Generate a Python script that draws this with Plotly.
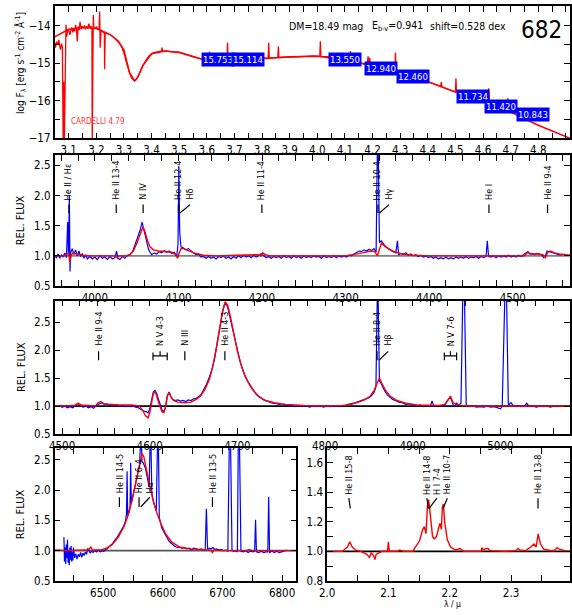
import plotly.graph_objects as go

W, H = 572, 615
FONT = "Liberation Sans Narrow, DejaVu Sans Condensed, Arial Narrow, Arial, sans-serif"

# ---------------- Panel 1: SED (log lambda / log F) ----------------
SED_OBS_LOGL = [3.049, 3.052, 3.056, 3.060, 3.064, 3.067, 3.070, 3.074, 3.077, 3.080, 3.082, 3.084,
                3.087, 3.090, 3.093, 3.096, 3.100, 3.104, 3.107, 3.111, 3.115, 3.118, 3.122, 3.125,
                3.128, 3.131, 3.134, 3.138, 3.141, 3.145, 3.149, 3.153, 3.157, 3.161, 3.165, 3.169,
                3.173, 3.177, 3.181, 3.184, 3.185, 3.187, 3.189, 3.191, 3.195, 3.200, 3.205, 3.210,
                3.212, 3.214, 3.217, 3.222, 3.226, 3.229, 3.230, 3.232, 3.236, 3.242, 3.248, 3.254,
                3.260, 3.266, 3.272, 3.278, 3.284, 3.290, 3.294, 3.296, 3.298, 3.300, 3.303, 3.307,
                3.313, 3.319, 3.325, 3.331, 3.339, 3.344, 3.349, 3.357, 3.367, 3.376, 3.385, 3.393,
                3.402, 3.415, 3.428, 3.436, 3.438, 3.440, 3.455, 3.474, 3.497, 3.520, 3.545, 3.563,
                3.581, 3.600, 3.610, 3.612, 3.630, 3.652, 3.673, 3.675, 3.677, 3.703, 3.705, 3.707,
                3.735, 3.760, 3.782, 3.810, 3.822, 3.824, 3.826, 3.857, 3.859, 3.861, 3.880, 3.901,
                3.936, 3.960, 3.984, 4.009, 4.011, 4.013, 4.030, 4.043, 4.045, 4.047, 4.060, 4.062,
                4.064, 4.091, 4.118, 4.120, 4.122, 4.140, 4.162, 4.180, 4.184, 4.186, 4.190, 4.192,
                4.221, 4.250, 4.281, 4.283, 4.285, 4.293, 4.320, 4.352, 4.373, 4.375, 4.377, 4.400,
                4.435, 4.447, 4.449, 4.451, 4.480, 4.500, 4.502, 4.504, 4.518, 4.560, 4.589, 4.610,
                4.621, 4.623, 4.636, 4.660, 4.688, 4.690, 4.692, 4.702]
SED_OBS_LOGF = [-14.46, -14.59, -14.43, -14.52, -14.38, -14.55, -14.64, -14.48, -14.58, -17.20, -15.50, -17.20,
                -14.60, -13.98, -14.30, -14.12, -14.11, -14.25, -14.15, -14.05, -14.18, -14.07, -14.15, -13.98,
                -14.10, -14.42, -14.03, -14.12, -13.90, -14.10, -14.02, -14.08, -14.00, -14.10, -14.02, -14.08,
                -13.95, -14.06, -14.03, -14.07, -17.20, -14.10, -13.72, -14.06, -14.07, -14.04, -14.09, -14.07,
                -13.63, -14.59, -14.12, -14.15, -14.20, -14.16, -15.16, -14.19, -14.21, -14.22, -14.24, -14.26,
                -14.29, -14.33, -14.37, -14.42, -14.48, -14.55, -14.60, -14.68, -14.62, -14.75, -14.80, -14.94,
                -15.10, -15.25, -15.36, -15.43, -15.47, -15.44, -15.38, -15.25, -15.08, -14.95, -14.86, -14.79,
                -14.74, -14.71, -14.69, -14.68, -14.59, -14.68, -14.68, -14.70, -14.70, -14.75, -14.81, -14.85,
                -14.90, -14.93, -14.70, -14.93, -14.94, -14.93, -14.93, -14.45, -14.93, -14.92, -14.71, -14.92,
                -14.90, -14.89, -14.88, -14.87, -14.87, -14.46, -14.87, -14.85, -14.55, -14.85, -14.84, -14.83,
                -14.83, -14.82, -14.81, -14.82, -14.42, -14.82, -14.83, -14.83, -14.73, -14.84, -14.85, -14.75,
                -14.86, -14.90, -14.95, -14.68, -14.95, -14.98, -15.01, -15.04, -14.82, -15.05, -14.86, -15.05,
                -15.10, -15.15, -15.19, -14.72, -15.20, -15.21, -15.29, -15.38, -15.43, -15.21, -15.44, -15.49,
                -15.58, -15.62, -15.50, -15.63, -15.71, -15.76, -15.40, -15.77, -15.82, -15.92, -15.99, -16.04,
                -15.67, -16.07, -16.13, -16.18, -16.25, -15.93, -16.27, -16.30]
SED_MOD_LOGL = [3.049, 3.10, 3.15, 3.20, 3.25, 3.28, 3.30, 3.32, 3.339, 3.35, 3.37, 3.40, 3.45, 3.50,
                3.55, 3.60, 3.70, 3.80, 3.90, 4.00, 4.10, 4.20, 4.30, 4.40, 4.50, 4.60, 4.70, 4.80, 4.916]
SED_MOD_LOGF = [-14.30, -14.10, -14.05, -14.08, -14.24, -14.42, -14.65, -15.25, -15.47, -15.38, -15.05,
                -14.75, -14.68, -14.72, -14.83, -14.93, -14.93, -14.88, -14.83, -14.82, -14.91, -15.06,
                -15.23, -15.49, -15.77, -16.02, -16.30, -16.65, -17.00]
PHOT_LOGL = [3.642, 3.749, 4.101, 4.229, 4.347, 4.562, 4.664, 4.780]
PHOT_LOGF = [-14.89, -14.89, -14.90, -15.14, -15.36, -15.88, -16.15, -16.36]
PHOT_MAG = ["15.753", "15.114", "13.550", "12.940", "12.460", "11.734", "11.420", "10.843"]

# ---------------- Panel 2: 3950-4570 A ----------------
P2_OBS_WAVE = [3952, 3954, 3956, 3958, 3960, 3962, 3964, 3966, 3967.5, 3968.5, 3969.5, 3970.3, 3971, 3973,
               3975, 3977, 3979, 3981, 3983, 3985, 3987, 3989, 3991, 3994, 3997, 4000, 4003, 4006, 4009,
               4012, 4015, 4018, 4021, 4024, 4026, 4027.5, 4030, 4033, 4036, 4039, 4042, 4045, 4048, 4051,
               4054, 4056.5, 4058, 4060, 4062, 4064, 4066, 4068, 4071, 4074, 4077, 4080, 4083, 4086, 4089,
               4092, 4095, 4098, 4099.5, 4100.5, 4101.5, 4103, 4106, 4109, 4112, 4115, 4118, 4121, 4124,
               4127, 4130, 4133, 4136, 4139, 4142, 4145, 4148, 4151, 4154, 4157, 4160, 4163, 4166, 4169,
               4172, 4175, 4178, 4181, 4184, 4187, 4190, 4193, 4196, 4199, 4202, 4205, 4208, 4211, 4214,
               4217, 4220, 4223, 4226, 4229, 4232, 4235, 4238, 4241, 4244, 4247, 4250, 4253, 4256, 4259,
               4262, 4265, 4268, 4271, 4274, 4277, 4280, 4283, 4286, 4289, 4292, 4295, 4298, 4301, 4304,
               4307, 4310, 4313, 4316, 4319, 4322, 4325, 4328, 4331, 4334, 4336.5, 4338, 4339, 4340.5,
               4342.5, 4345, 4348, 4351, 4354, 4357, 4360, 4362, 4363.5, 4366, 4369, 4372, 4375, 4378,
               4381, 4384, 4387, 4390, 4393, 4396, 4399, 4402, 4405, 4408, 4411, 4414, 4417, 4420, 4423,
               4426, 4429, 4432, 4435, 4438, 4441, 4444, 4447, 4450, 4453, 4456, 4459, 4462, 4465, 4468,
               4469.5, 4471, 4474, 4477, 4480, 4483, 4486, 4489, 4492, 4495, 4498, 4501, 4504, 4507, 4510,
               4513, 4516, 4518, 4520, 4523, 4526, 4529, 4532, 4535, 4537, 4539, 4541, 4543, 4546, 4549,
               4552, 4555, 4558]
P2_OBS_FLUX = [1.00, 0.97, 1.03, 0.96, 1.02, 0.98, 1.05, 0.97, 1.56, 1.00, 2.00, 0.74, 1.05, 1.12,
               1.02, 1.10, 1.00, 1.08, 0.99, 1.04, 0.96, 1.02, 0.95, 0.99, 0.95, 0.98, 0.94, 1.00, 0.96,
               0.98, 0.94, 0.99, 0.95, 0.97, 1.08, 0.96, 0.94, 0.99, 0.96, 1.01, 1.02, 1.07, 1.18, 1.30,
               1.42, 1.56, 1.47, 1.36, 1.24, 1.12, 1.06, 1.02, 1.05, 1.03, 1.07, 1.05, 1.09, 1.06, 1.08,
               1.04, 1.06, 0.99, 1.20, 2.48, 1.40, 1.15, 1.13, 1.10, 1.12, 1.08, 1.05, 1.02, 1.03,
               0.98, 0.99, 0.96, 0.99, 0.96, 0.98, 0.95, 0.99, 0.97, 1.00, 0.96, 0.98, 0.95, 0.99, 0.96,
               1.00, 0.97, 1.01, 0.98, 1.00, 0.97, 1.01, 0.98, 1.00, 1.04, 1.01, 0.97, 0.99, 0.96, 0.99,
               0.97, 0.99, 0.96, 1.00, 0.97, 0.99, 0.96, 1.00, 0.97, 0.99, 0.96, 1.00, 0.97, 0.99, 0.97,
               1.00, 0.98, 0.99, 0.96, 1.00, 0.97, 0.99, 0.97, 1.00, 0.97, 1.00, 0.98, 1.00, 0.98, 1.01,
               1.00, 1.03, 1.06, 1.08, 1.07, 1.10, 1.08, 1.11, 1.09, 1.12, 1.06, 2.80, 2.80, 1.22,
               1.25, 1.20, 1.15, 1.12, 1.09, 1.07, 1.05, 1.25, 1.02, 1.04, 1.02, 1.05, 1.01, 1.03,
               1.00, 1.02, 0.99, 1.01, 0.98, 1.00, 0.97, 0.99, 0.96, 0.98, 0.95, 0.97, 0.95, 0.98, 0.95,
               0.97, 0.95, 0.98, 0.96, 0.98, 0.96, 0.99, 0.96, 0.98, 0.97, 0.99, 0.96, 0.99, 0.97, 0.99,
               1.25, 0.99, 0.98, 1.00, 0.97, 1.00, 0.98, 1.00, 0.98, 1.01, 0.98, 1.00, 0.98, 1.01, 0.99,
               1.02, 1.04, 1.07, 1.03, 1.04, 1.02, 1.04, 1.03, 1.01, 0.97, 1.00, 1.08, 1.07, 1.05, 1.04,
               1.03, 1.02, 1.01]
P2_MOD_WAVE = [3952, 3964, 3967, 3968.5, 3970, 3972, 3974, 3978, 3985, 3995, 4024, 4026.5, 4029, 4038,
               4042, 4046, 4050, 4054, 4057.5, 4060, 4063, 4066, 4070, 4076, 4084, 4092, 4096, 4099,
               4101, 4103, 4106, 4112, 4120, 4130, 4145, 4170, 4185, 4195, 4199, 4201, 4204, 4210,
               4300, 4310, 4320, 4330, 4335, 4338, 4341, 4343, 4346, 4350, 4356, 4365, 4380, 4400,
               4514, 4518, 4522, 4530, 4536, 4539, 4542, 4545, 4550, 4556, 4569]
P2_MOD_FLUX = [1.00, 1.00, 1.03, 1.05, 0.90, 1.02, 1.05, 1.03, 1.01, 1.00, 1.00, 0.97, 1.00, 1.00,
               1.02, 1.08, 1.20, 1.36, 1.48, 1.40, 1.25, 1.15, 1.10, 1.08, 1.07, 1.06, 1.03, 0.96,
               1.05, 1.12, 1.12, 1.08, 1.04, 1.01, 1.00, 1.01, 1.02, 1.02, 1.00, 1.05, 1.02, 1.00,
               1.00, 1.02, 1.05, 1.08, 1.07, 1.00, 1.16, 1.22, 1.17, 1.13, 1.08, 1.04, 1.01, 1.00,
               1.00, 1.06, 1.03, 1.03, 1.02, 0.97, 1.06, 1.08, 1.05, 1.03, 1.01]
P2_LINE_WAVE = [3969.0, 4025.6, 4057.8, 4100.0, 4101.7, 4199.8, 4338.7, 4340.5, 4471.5, 4541.6]
P2_LINE_TEXT = ["He II / H\u03b5", "He II 13-4", "N IV", "He II 12-4", "H\u03b4", "He II 11-4",
                "He II 10-4", "H\u03b3", "He I", "He II 9-4"]

# ---------------- Panel 3: 4490-5080 A ----------------
P3_OBS_WAVE = [4497, 4500, 4503, 4506, 4509, 4512, 4515, 4518, 4521, 4524, 4527, 4530, 4533, 4536, 4539,
               4542, 4545, 4548, 4551, 4554, 4557, 4560, 4563, 4566, 4569, 4572, 4575, 4578, 4581, 4584,
               4587, 4590, 4593, 4596, 4598, 4600, 4602, 4604, 4606, 4608, 4610, 4612, 4614, 4616, 4618,
               4620, 4622, 4624, 4626, 4629, 4632, 4635, 4638, 4641, 4644, 4647, 4650, 4653, 4656, 4659,
               4662, 4665, 4668, 4671, 4674, 4677, 4680, 4683, 4685, 4687, 4689, 4691, 4694, 4697, 4700,
               4703, 4706, 4709, 4712, 4715, 4718, 4721, 4724, 4727, 4730, 4734, 4738, 4742, 4746, 4750,
               4754, 4758, 4762, 4766, 4770, 4774, 4778, 4782, 4786, 4790, 4794, 4798, 4802, 4806, 4810,
               4814, 4818, 4822, 4826, 4830, 4834, 4838, 4842, 4846, 4850, 4853, 4856, 4858, 4859.5, 4860.5,
               4862, 4864, 4866, 4868, 4871, 4874, 4877, 4880, 4884, 4888, 4892, 4896, 4900, 4904, 4908,
               4912, 4916, 4920, 4922, 4924, 4928, 4932, 4936, 4939, 4942, 4944, 4946, 4948, 4950, 4952,
               4955, 4957, 4959, 4961, 4965, 4969, 4973, 4977, 4981, 4985, 4989, 4993, 4997, 5000, 5002,
               5005, 5007, 5009, 5012, 5015, 5019, 5023, 5027, 5030, 5033, 5037, 5041, 5045, 5049, 5053,
               5057, 5061, 5064]
P3_OBS_FLUX = [1.02, 0.98, 1.00, 0.97, 0.99, 0.97, 1.00, 1.05, 1.00, 0.98, 1.00, 0.97, 0.99, 0.96, 1.01,
               1.04, 1.06, 1.03, 1.04, 1.01, 1.03, 1.00, 1.02, 0.99, 1.01, 0.99, 1.00, 0.99, 1.00, 0.98,
               0.97, 0.94, 0.91, 0.90, 0.88, 0.95, 1.12, 1.25, 1.28, 1.22, 1.12, 1.02, 0.93, 0.90, 0.98,
               1.18, 1.25, 1.18, 1.12, 1.10, 1.11, 1.09, 1.10, 1.08, 1.11, 1.10, 1.13, 1.14, 1.17, 1.22,
               1.30, 1.40, 1.52, 1.66, 1.85, 2.10, 2.40, 2.68, 2.80, 2.84, 2.76, 2.62, 2.40, 2.18, 1.98,
               1.80, 1.65, 1.52, 1.44, 1.36, 1.28, 1.22, 1.17, 1.14, 1.11, 1.09, 1.06, 1.05, 1.04, 1.02,
               1.03, 1.00, 1.02, 0.99, 1.01, 0.99, 1.01, 0.98, 1.00, 0.99, 1.01, 0.98, 1.00, 0.99, 1.01,
               0.99, 1.01, 1.00, 1.03, 1.04, 1.06, 1.08, 1.10, 1.12, 1.15, 1.19, 1.25, 1.35, 2.95, 2.95,
               1.45, 1.40, 1.32, 1.27, 1.20, 1.16, 1.12, 1.10, 1.07, 1.06, 1.03, 1.04, 1.02, 1.00, 1.02,
               0.99, 1.01, 1.00, 1.09, 1.00, 1.01, 1.00, 1.02, 1.08, 1.15, 1.12, 1.02, 1.00, 1.06, 1.01,
               1.05, 2.95, 2.95, 1.02, 0.99, 1.00, 0.98, 0.99, 0.98, 1.00, 0.98, 0.99, 0.97, 0.95, 0.99,
               2.95, 2.95, 1.02, 1.06, 1.00, 1.01, 0.99, 1.00, 1.05, 0.99, 1.00, 0.98, 1.00, 0.99, 1.00,
               0.98, 1.00, 0.99]
P3_MOD_WAVE = [4491, 4514, 4518, 4522, 4530, 4538, 4541, 4544, 4548, 4555, 4565, 4580, 4588, 4592, 4595,
               4598, 4600, 4602, 4604, 4606, 4608, 4611, 4614, 4616, 4618, 4620, 4622, 4624, 4627, 4632,
               4640, 4647, 4653, 4658, 4663, 4668, 4672, 4676, 4680, 4683, 4686, 4689, 4692, 4696, 4700,
               4704, 4708, 4713, 4718, 4724, 4732, 4742, 4755, 4775, 4800, 4820, 4830, 4838, 4845, 4851,
               4856, 4859, 4862, 4865, 4869, 4874, 4882, 4892, 4905, 4930, 4937, 4940, 4943, 4946, 4950,
               4955, 4970, 5080]
P3_MOD_FLUX = [1.00, 1.01, 1.05, 1.02, 1.01, 1.00, 1.06, 1.08, 1.04, 1.03, 1.02, 1.02, 1.00, 0.92, 0.83,
               0.79, 0.88, 1.05, 1.22, 1.26, 1.18, 1.02, 0.90, 0.88, 0.98, 1.18, 1.24, 1.17, 1.10, 1.07,
               1.06, 1.07, 1.12, 1.18, 1.30, 1.48, 1.72, 2.05, 2.45, 2.70, 2.87, 2.80, 2.60, 2.28, 1.98,
               1.75, 1.57, 1.40, 1.28, 1.18, 1.10, 1.06, 1.03, 1.01, 1.00, 1.01, 1.03, 1.07, 1.11, 1.17,
               1.28, 1.40, 1.50, 1.40, 1.28, 1.18, 1.10, 1.05, 1.02, 1.01, 1.03, 1.10, 1.18, 1.06, 1.03,
               1.01, 1.00, 1.00]
P3_LINE_WAVE = [4541.6, 4640.0, 4685.7, 4859.3, 4861.3]
P3_LINE_TEXT = ["He II 9-4", "N III", "He II 4-3", "He II 8-4", "H\u03b2"]
P3_BLEND_TEXT = ["N V 4-3", "N V 7-6"]
P3_BLEND_LO = [4603.7, 4936.0]
P3_BLEND_HI = [4619.9, 4950.0]

# ---------------- Panel 4: 6420-6825 A ----------------
P4_OBS_WAVE = [6434, 6435, 6436, 6437, 6438, 6439, 6440, 6441, 6442, 6443, 6444, 6445, 6446, 6447, 6448,
               6449, 6450, 6452, 6454, 6456, 6458, 6460, 6462, 6464, 6466, 6468, 6470, 6472, 6474, 6476,
               6478, 6480, 6483, 6486, 6489, 6492, 6495, 6498, 6501, 6504, 6507, 6510, 6513, 6516, 6519,
               6522, 6525, 6528, 6531, 6534, 6537, 6539, 6540, 6541, 6543, 6545, 6546, 6547, 6549, 6551,
               6553, 6555, 6557, 6559, 6561, 6562.5, 6564, 6565, 6567, 6569, 6571, 6573, 6575, 6577,
               6578.5, 6580, 6581.5, 6583, 6585, 6587, 6589, 6591, 6592.5, 6594, 6596, 6598, 6601, 6604,
               6607, 6610, 6613, 6616, 6619, 6622, 6625, 6628, 6632, 6636, 6640, 6644, 6648, 6652, 6656,
               6660, 6664, 6668, 6671, 6673, 6675, 6678, 6681, 6684, 6687, 6690, 6694, 6698, 6702, 6706,
               6709, 6711.5, 6713.5, 6716, 6719, 6722, 6725, 6726.5, 6728.5, 6731, 6735, 6739, 6743, 6747,
               6751, 6754, 6755.5, 6757, 6761, 6765, 6769, 6773, 6776, 6777.5, 6779, 6783, 6787, 6791,
               6795, 6799, 6803, 6806, 6808]
P4_OBS_FLUX = [1.22, 0.82, 1.05, 0.78, 1.10, 0.88, 1.18, 0.80, 1.00, 0.76, 1.05, 0.85, 1.08, 0.82, 0.98,
               0.84, 1.05, 0.88, 0.95, 0.86, 0.94, 0.90, 0.97, 0.89, 0.96, 0.92, 0.98, 0.94, 1.04, 1.00,
               0.96, 0.99, 0.97, 1.00, 0.98, 1.01, 0.98, 1.00, 0.99, 1.02, 1.03, 1.07, 1.09, 1.12, 1.17,
               1.20, 1.25, 1.30, 1.35, 1.40, 1.48, 1.60, 2.31, 1.58, 1.65, 1.72, 2.45, 1.78, 1.88, 1.98,
               2.06, 2.15, 2.25, 2.35, 2.42, 2.80, 2.80, 2.46, 2.45, 2.40, 2.35, 2.25, 2.15, 2.05,
               2.80, 2.80, 1.95, 1.85, 1.78, 1.72, 1.66, 2.80, 2.80, 1.55, 1.45, 1.38, 1.32, 1.26,
               1.20, 1.16, 1.13, 1.10, 1.08, 1.06, 1.05, 1.06, 1.04, 1.05, 1.03, 1.04, 1.02, 1.04, 1.03,
               1.02, 1.03, 1.02, 1.01, 1.69, 1.02, 1.04, 1.03, 1.05, 1.02, 1.03, 1.01, 1.02, 1.00, 1.01,
               0.99, 2.80, 2.80, 1.00, 0.99, 1.00, 0.98, 2.80, 2.80, 0.99, 0.98, 1.00, 0.97, 0.99,
               0.98, 0.99, 1.51, 0.98, 0.97, 0.99, 0.97, 0.98, 0.98, 1.89, 0.97, 0.99, 0.97, 0.99,
               0.97, 0.98, 0.99, 1.00, 1.01]
P4_MOD_WAVE = [6418, 6440, 6470, 6476, 6479, 6482, 6495, 6505, 6515, 6525, 6535, 6543, 6550, 6556, 6561,
               6565, 6568, 6572, 6577, 6583, 6590, 6597, 6605, 6615, 6628, 6645, 6665, 6680, 6683, 6686,
               6700, 6740, 6745, 6750, 6824]
P4_MOD_FLUX = [1.01, 1.00, 1.01, 1.02, 1.06, 1.01, 1.01, 1.04, 1.10, 1.22, 1.40, 1.62, 1.90, 2.20, 2.45,
               2.60, 2.55, 2.38, 2.12, 1.85, 1.62, 1.44, 1.27, 1.14, 1.06, 1.03, 1.02, 1.01, 0.97, 1.01,
               1.00, 1.00, 1.02, 1.00, 1.00]
P4_LINE_WAVE = [6527.1, 6560.1, 6562.8, 6683.2]
P4_LINE_TEXT = ["He II 14-5", "He II 6-4", "H\u03b1", "He II 13-5"]

# ---------------- Panel 5: K band (micron) ----------------
P5_MOD_MU = [2.000, 2.025, 2.030, 2.033, 2.037, 2.041, 2.046, 2.055, 2.065, 2.069, 2.072, 2.076, 2.078,
             2.080, 2.084, 2.090, 2.0985, 2.100, 2.1015, 2.115, 2.1186, 2.125, 2.140, 2.1426, 2.1506,
             2.156, 2.1586, 2.1613, 2.164, 2.1656, 2.1683, 2.172, 2.1746, 2.1784, 2.1826, 2.1842, 2.1864,
             2.188, 2.1896, 2.1917, 2.196, 2.2013, 2.2093, 2.2146, 2.2173, 2.2226, 2.250, 2.2509, 2.2525,
             2.2546, 2.260, 2.2626, 2.2653, 2.290, 2.3078, 2.3115, 2.3147, 2.324, 2.332, 2.3373, 2.341,
             2.3442, 2.348, 2.3533, 2.3666, 2.372, 2.3752, 2.3784, 2.388, 2.3965]
P5_MOD_FLUX = [1.000, 1.000, 1.020, 1.030, 1.065, 1.030, 1.010, 1.000, 0.980, 0.960, 0.990, 0.970, 0.945,
               0.980, 0.990, 1.000, 1.000, 1.065, 1.000, 1.000, 1.010, 1.000, 1.000, 1.020, 1.070,
               1.150, 1.167, 1.120, 1.330, 1.350, 1.250, 1.100, 1.085, 1.100, 1.170, 1.190, 1.150,
               1.300, 1.320, 1.200, 1.080, 1.030, 1.010, 1.015, 1.020, 1.000, 1.000, 1.000, 1.025,
               1.010, 1.020, 1.020, 1.005, 1.000, 1.005, 1.020, 1.010, 1.005, 1.030, 1.050, 1.030,
               1.118, 1.050, 1.015, 1.005, 1.010, 1.025, 1.015, 1.005, 1.000]
P5_LINE_MU = [2.0379, 2.1653, 2.1661, 2.1891, 2.3440]
P5_LINE_TEXT = ["He II 15-8", "He II 14-8", "H I 7-4", "He II 10-7", "He II 13-8"]

# ---------------- layout helpers (positions / styles) ----------------
def hx(p):
    return p / W


def vy(p):
    return 1 - p / H


LEFT, RIGHT = 47.3, 571.2
P4_RIGHT, P5_LEFT = 293.0, 324.2
ROWS = {1: (6.0, 140.0), 2: (156.7, 289.3), 3: (304.0, 439.0), 4: (453.3, 587.7)}

BLUE = "#0000ff"
RED = "#ff0000"
TICK_SIZE = 11.5

fig = go.Figure()


def add_line(x, y, color, ax, width=1.3):
    fig.add_trace(go.Scatter(x=x, y=y, mode="lines", line=dict(color=color, width=width),
                             xaxis="x" + ax, yaxis="y" + ax, hoverinfo="skip", showlegend=False))


add_line(SED_MOD_LOGL, SED_MOD_LOGF, RED, "", 1.5)
add_line(SED_OBS_LOGL, SED_OBS_LOGF, RED, "", 1.3)
add_line(P2_OBS_WAVE, P2_OBS_FLUX, BLUE, "2", 1.2)
add_line(P2_MOD_WAVE, P2_MOD_FLUX, RED, "2", 1.4)
add_line(P3_OBS_WAVE, P3_OBS_FLUX, BLUE, "3", 1.2)
add_line(P3_MOD_WAVE, P3_MOD_FLUX, RED, "3", 1.4)
add_line(P4_OBS_WAVE, P4_OBS_FLUX, BLUE, "4", 1.2)
add_line(P4_MOD_WAVE, P4_MOD_FLUX, RED, "4", 1.4)
add_line(P5_MOD_MU, P5_MOD_FLUX, RED, "5", 1.4)


def axis(domain, rng, dtick, minor=None, fmt=None, anchor=None, tick0=None):
    d = dict(domain=domain, range=rng, dtick=dtick, showline=True, linecolor="black", linewidth=1.5,
             mirror="allticks", ticks="inside", ticklen=6, tickwidth=1.2, tickcolor="black",
             showgrid=False, zeroline=False, tickfont=dict(family=FONT, size=TICK_SIZE, color="black"))
    if tick0 is not None:
        d["tick0"] = tick0
    if fmt:
        d["tickformat"] = fmt
    if minor:
        d["minor"] = dict(dtick=minor, ticks="inside", ticklen=6, tickwidth=1.2, tickcolor="black",
                          showgrid=False)
    if anchor:
        d["anchor"] = anchor
    return d


full_x = [hx(LEFT), hx(RIGHT)]
fig.update_layout(
    width=W, height=H, margin=dict(l=0, r=0, t=0, b=0),
    paper_bgcolor="white", plot_bgcolor="white", showlegend=False,
    xaxis=axis(full_x, [3.0487, 4.9157], 0.1, 0.05, ".1f", "y", 3.1),
    yaxis=axis([vy(ROWS[1][1]), vy(ROWS[1][0])], [-17.0, -13.48], 1, 0.5, None, "x", -17),
    xaxis2=axis(full_x, [3951.8, 4568.7], 100, 20, None, "y2", 4000),
    yaxis2=axis([vy(ROWS[2][1]), vy(ROWS[2][0])], [0.5, 2.674], 0.5, None, ".1f", "x2", 0.5),
    xaxis3=axis(full_x, [4491.4, 5079.6], 100, 20, None, "y3", 4500),
    yaxis3=axis([vy(ROWS[3][1]), vy(ROWS[3][0])], [0.5, 2.89], 0.5, None, ".1f", "x3", 0.5),
    xaxis4=axis([hx(LEFT), hx(P4_RIGHT)], [6418.3, 6824.0], 100, 50, None, "y4", 6500),
    yaxis4=axis([vy(ROWS[4][1]), vy(ROWS[4][0])], [0.5, 2.69], 0.5, None, ".1f", "x4", 0.5),
    xaxis5=axis([hx(P5_LEFT), hx(RIGHT)], [2.0, 2.3965], 0.1, 0.05, ".1f", "y5", 2.0),
    yaxis5=axis([vy(ROWS[4][1]), vy(ROWS[4][0])], [0.8, 1.698], 0.2, 0.1, ".1f", "x5", 0.8),
)

shapes = []
annotations = []

# reference level lines
for ax, col in (("2", "#808080"), ("3", "black"), ("4", "#555555"), ("5", "black")):
    shapes.append(dict(type="line", xref="x%s domain" % ax, yref="y" + ax, x0=0, x1=1, y0=1, y1=1,
                       line=dict(color=col, width=1.6), layer="below"))

LABEL_FONT = dict(family=FONT, size=9, color="black")


def line_labels(ax, waves, texts, shifts, y_text, y_top, y_bot):
    for w, t, s in zip(waves, texts, shifts):
        lx = w + s
        annotations.append(dict(text=t, x=lx, y=y_text, xref="x" + ax, yref="y" + ax, showarrow=False,
                                textangle=-90, xanchor="center", yanchor="bottom", font=LABEL_FONT,
                                borderpad=0))
        shapes.append(dict(type="line", xref="x" + ax, yref="y" + ax, x0=lx, x1=w, y0=y_top, y1=y_bot,
                           line=dict(color="black", width=1.2)))


line_labels("2", P2_LINE_WAVE, P2_LINE_TEXT, [0, 0, 0, 0, 12.3, 0, 0, 11.5, 0, 0], 1.91, 1.85, 1.71)
line_labels("3", P3_LINE_WAVE, P3_LINE_TEXT, [0, 0, 0, 0, 10.7], 2.06, 1.98, 1.82)
line_labels("4", P4_LINE_WAVE, P4_LINE_TEXT, [0, 0, 15.3, 0], 1.93, 1.88, 1.72)
line_labels("5", P5_LINE_MU, P5_LINE_TEXT, [-0.0025, -0.0025, 0.013, 0.007, 0], 1.378, 1.36, 1.29)

# blend brackets (N V)
for t, lo, hi in zip(P3_BLEND_TEXT, P3_BLEND_LO, P3_BLEND_HI):
    mid = (lo + hi) / 2
    top, bot, midy = 1.98, 1.82, 1.90
    annotations.append(dict(text=t, x=mid, y=2.06, xref="x3", yref="y3", showarrow=False, textangle=-90,
                            xanchor="center", yanchor="bottom", font=LABEL_FONT, borderpad=0))
    for x0, y0, x1, y1 in ((lo, top - 0.02, lo, bot), (hi, top - 0.02, hi, bot), (lo, midy, hi, midy),
                           (mid, top, mid, midy)):
        shapes.append(dict(type="line", xref="x3", yref="y3", x0=x0, x1=x1, y0=y0, y1=y1,
                           line=dict(color="black", width=1.2)))

# photometry boxes
for lg, lf, m in zip(PHOT_LOGL, PHOT_LOGF, PHOT_MAG):
    annotations.append(dict(text=m, x=lg, y=lf, xref="x", yref="y", showarrow=False, bgcolor=BLUE,
                            font=dict(family=FONT, size=9.5, color="white"), borderpad=1,
                            xanchor="center", yanchor="middle"))

HDR = dict(family=FONT, size=10.5, color="black")
annotations += [
    dict(text="DM=18.49 mag", x=hx(283), y=vy(26), xref="paper", yref="paper", showarrow=False,
         xanchor="left", yanchor="middle", font=HDR),
    dict(text="E<sub>b-v</sub>=0.941", x=hx(368), y=vy(26), xref="paper", yref="paper", showarrow=False,
         xanchor="left", yanchor="middle", font=HDR),
    dict(text="shift=0.528 dex", x=hx(427), y=vy(26), xref="paper", yref="paper", showarrow=False,
         xanchor="left", yanchor="middle", font=HDR),
    dict(text="682", x=hx(542), y=vy(30), xref="paper", yref="paper", showarrow=False,
         xanchor="center", yanchor="middle", font=dict(family=FONT, size=24, color="black")),
    dict(text="CARDELLI 4.79", x=hx(62), y=vy(123), xref="paper", yref="paper", showarrow=False,
         xanchor="left", yanchor="middle", font=dict(family=FONT, size=8, color="#ff3333")),
    dict(text="log F<sub>\u03bb</sub> [erg s<sup>-1</sup> cm<sup>-2</sup> \u00c5<sup>-1</sup>]",
         x=hx(13), y=vy(64), xref="paper", yref="paper", showarrow=False, textangle=-90,
         xanchor="center", yanchor="middle", font=dict(family=FONT, size=10, color="black")),
    dict(text="\u03bb / \u03bc", x=hx(452), y=vy(611), xref="paper", yref="paper", showarrow=False,
         xanchor="center", yanchor="middle", font=dict(family=FONT, size=8.5, color="black")),
]
for r in (2, 3, 4):
    y0, y1 = ROWS[r]
    annotations.append(dict(text="REL. FLUX", x=hx(13), y=vy((y0 + y1) / 2), xref="paper", yref="paper",
                            showarrow=False, textangle=-90, xanchor="center", yanchor="middle",
                            font=dict(family=FONT, size=11, color="black")))

fig.update_layout(shapes=shapes, annotations=annotations)
fig.write_html("out.html")
